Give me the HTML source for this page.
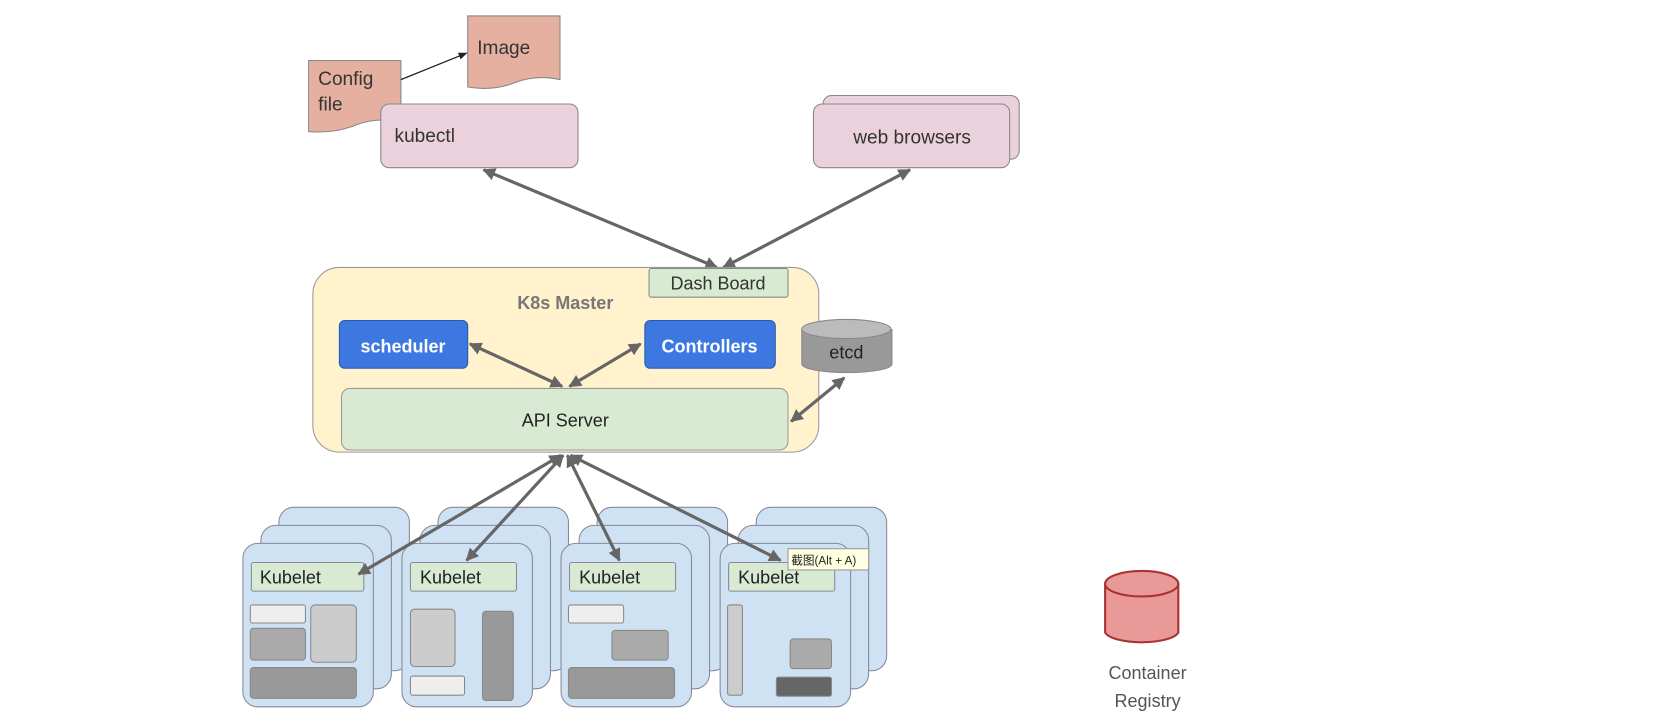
<!DOCTYPE html>
<html><head><meta charset="utf-8"><style>
html,body{margin:0;padding:0;background:#fff;}
svg{display:block;}
text{font-family:"Liberation Sans","Noto Sans CJK SC",sans-serif;}
</style></head><body>
<svg width="1663" height="727" viewBox="0 0 1568 685" preserveAspectRatio="none" xmlns="http://www.w3.org/2000/svg">
<defs>
<marker id="a" viewBox="0 0 10 10" refX="9" refY="5" markerWidth="4" markerHeight="4" orient="auto-start-reverse"><path d="M0,0L10,5L0,10z" fill="#666"/></marker>
<marker id="s" viewBox="0 0 10 10" refX="9" refY="5" markerWidth="7" markerHeight="7" orient="auto"><path d="M0,1L10,5L0,9z" fill="#222"/></marker>
</defs>
<rect width="1568" height="685" fill="#fff"/>
<!-- docs -->
<path d="M441,15H528V75Q505,70 485,78T441,82Z" fill="#e6b0a0" stroke="#888"/>
<text x="450" y="51" font-size="18" fill="#333">Image</text>
<path d="M291,57H378V115Q355,110 335,118T291,124Z" fill="#e6b0a0" stroke="#888"/>
<text x="300" y="80" font-size="18" fill="#333">Config</text>
<text x="300" y="104" font-size="18" fill="#333">file</text>
<line x1="378" y1="75" x2="440" y2="50" stroke="#222" stroke-width="1.2" marker-end="url(#s)"/>
<!-- kubectl -->
<rect x="359" y="98" width="186" height="60" rx="8" fill="#ead1dc" stroke="#888"/>
<path d="M359,120V125" stroke="none"/>
<text x="372" y="134" font-size="18" fill="#333">kubectl</text>
<rect x="776" y="90" width="185" height="60" rx="8" fill="#ead1dc" stroke="#888"/>
<rect x="767" y="98" width="185" height="60" rx="8" fill="#ead1dc" stroke="#888"/>
<text x="860" y="135" font-size="18" fill="#333" text-anchor="middle">web browsers</text>
<g stroke="#666" stroke-width="3" fill="none" marker-start="url(#a)" marker-end="url(#a)">
<line x1="456" y1="160" x2="676" y2="252"/>
<line x1="858" y1="160" x2="682" y2="252"/>
</g>
<!-- master -->
<rect x="295" y="252" width="477" height="174" rx="25" fill="#fff2cc" stroke="#999"/>
<rect x="612" y="253" width="131" height="27" rx="2" fill="#d9ead3" stroke="#888"/>
<text x="677" y="273" font-size="17" fill="#333" text-anchor="middle">Dash Board</text>
<text x="533" y="291" font-size="17" font-weight="bold" fill="#777" text-anchor="middle">K8s Master</text>
<rect x="320" y="302" width="121" height="45" rx="5" fill="#3c78e0" stroke="#2a5bb0"/>
<text x="380" y="332" font-size="17" font-weight="bold" fill="#fff" text-anchor="middle">scheduler</text>
<rect x="608" y="302" width="123" height="45" rx="5" fill="#3c78e0" stroke="#2a5bb0"/>
<text x="669" y="332" font-size="17" font-weight="bold" fill="#fff" text-anchor="middle">Controllers</text>
<rect x="322" y="366" width="421" height="58" rx="8" fill="#d9ead3" stroke="#999"/>
<text x="533" y="402" font-size="17" fill="#222" text-anchor="middle">API Server</text>
<!-- etcd -->
<path d="M756,310V343A42,8 0 0 0 841,343V310" fill="#999" stroke="#888"/>
<ellipse cx="798" cy="310" rx="42" ry="9" fill="#bbb" stroke="#888"/>
<text x="798" y="338" font-size="17" fill="#222" text-anchor="middle">etcd</text>
<g stroke="#666" stroke-width="3" fill="none" marker-start="url(#a)" marker-end="url(#a)">
<line x1="443" y1="324" x2="530" y2="364"/>
<line x1="604" y1="324" x2="537" y2="364"/>
<line x1="796" y1="356" x2="746" y2="397"/>
</g>
<!-- nodes -->
<g stroke="#889" fill="#cfe2f3">
<rect x="263" y="478" width="123" height="154" rx="14"/><rect x="246" y="495" width="123" height="154" rx="14"/><rect x="229" y="512" width="123" height="154" rx="14"/>
<rect x="413" y="478" width="123" height="154" rx="14"/><rect x="396" y="495" width="123" height="154" rx="14"/><rect x="379" y="512" width="123" height="154" rx="14"/>
<rect x="563" y="478" width="123" height="154" rx="14"/><rect x="546" y="495" width="123" height="154" rx="14"/><rect x="529" y="512" width="123" height="154" rx="14"/>
<rect x="713" y="478" width="123" height="154" rx="14"/><rect x="696" y="495" width="123" height="154" rx="14"/><rect x="679" y="512" width="123" height="154" rx="14"/>
</g>
<g fill="#d9ead3" stroke="#889">
<rect x="237" y="530" width="106" height="27" rx="2"/><rect x="387" y="530" width="100" height="27" rx="2"/><rect x="537" y="530" width="100" height="27" rx="2"/><rect x="687" y="530" width="100" height="27" rx="2"/>
</g>
<g font-size="17" fill="#222">
<text x="245" y="550">Kubelet</text><text x="396" y="550">Kubelet</text><text x="546" y="550">Kubelet</text><text x="696" y="550">Kubelet</text>
</g>
<g stroke="#888">
<rect x="236" y="570" width="52" height="17" rx="2" fill="#eee"/>
<rect x="236" y="592" width="52" height="30" rx="3" fill="#aaa"/>
<rect x="293" y="570" width="43" height="54" rx="4" fill="#ccc"/>
<rect x="236" y="629" width="100" height="29" rx="3" fill="#999"/>
<rect x="387" y="574" width="42" height="54" rx="4" fill="#ccc"/>
<rect x="455" y="576" width="29" height="84" rx="3" fill="#999"/>
<rect x="387" y="637" width="51" height="18" rx="2" fill="#eee"/>
<rect x="536" y="570" width="52" height="17" rx="2" fill="#eee"/>
<rect x="577" y="594" width="53" height="28" rx="3" fill="#aaa"/>
<rect x="536" y="629" width="100" height="29" rx="3" fill="#999"/>
<rect x="686" y="570" width="14" height="85" rx="2" fill="#ccc"/>
<rect x="745" y="602" width="39" height="28" rx="3" fill="#aaa"/>
<rect x="732" y="638" width="52" height="18" rx="2" fill="#666"/>
</g>
<g stroke="#666" stroke-width="3" fill="none" marker-start="url(#a)" marker-end="url(#a)">
<line x1="529" y1="429" x2="338" y2="541"/>
<line x1="531" y1="429" x2="440" y2="528"/>
<line x1="535" y1="429" x2="584" y2="528"/>
<line x1="538" y1="429" x2="736" y2="528"/>
</g>
<rect x="743" y="517" width="76" height="20" fill="#ffffe1" stroke="#999"/>
<text x="746" y="532" font-size="11" fill="#222">截图(Alt + A)</text>
<!-- registry -->
<path d="M1042,550V596A35,11 0 0 0 1111,596V550" fill="#ea9999" stroke="#a33" stroke-width="2"/>
<ellipse cx="1076.5" cy="550" rx="34.5" ry="12" fill="#ea9999" stroke="#a33" stroke-width="2"/>
<text x="1082" y="640" font-size="17" fill="#555" text-anchor="middle">Container</text>
<text x="1082" y="666" font-size="17" fill="#555" text-anchor="middle">Registry</text>
</svg>
</body></html>
